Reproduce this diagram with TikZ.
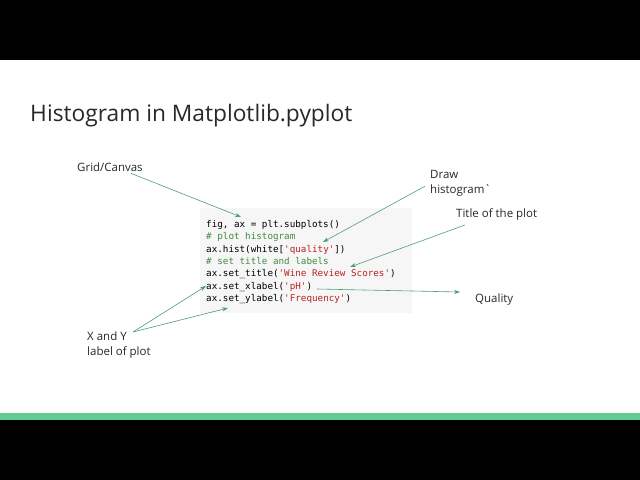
\documentclass[tikz,border=0pt]{standalone}
\usepackage{fontspec}
\setmainfont{Open Sans}
\newfontfamily\plainsans{Open Sans}
\setmonofont{DejaVu Sans Mono}
\usetikzlibrary{calc,positioning,arrows.meta}
\definecolor{arrowgreen}{RGB}{76,154,124}
\definecolor{bargreen}{RGB}{98,205,145}
\definecolor{codebg}{RGB}{246,246,246}
\definecolor{cmtgreen}{RGB}{64,140,64}
\definecolor{strred}{RGB}{186,33,33}
\definecolor{inkgray}{RGB}{40,40,40}

\begin{document}
\begin{tikzpicture}[x=0.03cm, y=-0.03cm,
    lbl/.style={font=\fontsize{9.8}{12.8}\selectfont, text=inkgray, inner sep=0pt, align=left},
    code/.style={font=\ttfamily\fontsize{7.9}{9}\selectfont, inner sep=0pt, anchor=base west},
    arr/.style={-{Stealth[length=5pt,width=3.5pt]}, arrowgreen, line width=0.5pt}]

    % Slide frame: black bands and green strip
    \fill[black] (0,0) rectangle (640,480);
    \fill[white] (0,60) rectangle (640,413);
    \fill[bargreen] (0,413) rectangle (640,420);
    \useasboundingbox (0,0) rectangle (640,480);

    % Heading
    \node[font=\fontsize{19.4}{22}\selectfont, text=inkgray, inner sep=0pt, anchor=base west] (heading) at (30,122) {Histogram in Matplotlib.pyplot};

    % Code cell
    \fill[codebg] (200,208) rectangle (412,313);
    \node[code] (c1) at (206,227) {fig, ax = plt.subplots()};
    \node[code] (c2) at (206,239.5) {\textcolor{cmtgreen}{\# plot histogram}};
    \node[code] (c3) at (206,252) {ax.hist(white[\textcolor{strred}{'quality'}])};
    \node[code] (c4) at (206,264) {\textcolor{cmtgreen}{\# set title and labels}};
    \node[code] (c5) at (206,276.5) {ax.set\_title(\textcolor{strred}{'Wine Review Scores'})};
    \node[code] (c6) at (206,289) {ax.set\_xlabel(\textcolor{strred}{'pH'})};
    \node[code] (c7) at (206,301.5) {ax.set\_ylabel(\textcolor{strred}{'Frequency'})};

    % Labels
    \node[lbl, anchor=base west] (grid) at (77,172) {Grid/Canvas};
    \node[lbl, anchor=north west] (draw) at (430,170) {Draw\\histogram{\plainsans`}};
    \node[lbl, anchor=base west] (plottitle) at (456,218) {Title of the plot};
    \node[lbl, anchor=base west] (quality) at (475,302) {Quality};
    \node[lbl, anchor=north west] (xy) at (87,332) {X and Y\\label of plot};

    % Arrow ends
    \coordinate (gridhead) at (241,217);
    \coordinate (drawhead) at (323,242);
    \coordinate (titlehead) at (350,267);
    \coordinate (xlabtail) at (317,289);
    \coordinate (xhead) at (206,286);
    \coordinate (yhead) at (228,308);

    % Arrows
    \draw[arr] ($(grid.south)+(21,1)$) -- (gridhead);
    \draw[arr] ($(draw.west)+(-5,3)$) -- (drawhead);
    \draw[arr] ($(plottitle.south west)+(9,4)$) -- (titlehead);
    \draw[arr] (xlabtail) -- ($(quality.west)+(-15,-7)$);
    \draw[arr] ($(xy.north west)+(46,0)$) -- (xhead);
    \draw[arr] ($(xy.north west)+(46,0)$) -- (yhead);
\end{tikzpicture}
\end{document}
